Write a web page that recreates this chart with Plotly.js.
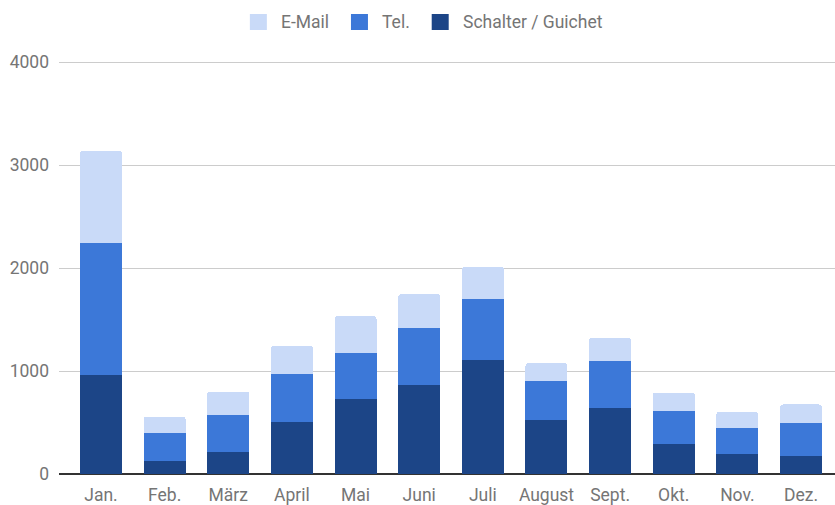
<!DOCTYPE html>
<html>
<head>
<meta charset="utf-8">
<script src="https://cdn.plot.ly/plotly-3.0.1.min.js"></script>
<style>html,body{margin:0;padding:0;background:#fff;}#chart{width:835px;height:505px;}</style>
</head>
<body>
<div id="chart"></div>
<script>
const months = ["Jan.","Feb.","März","April","Mai","Juni","Juli","August","Sept.","Okt.","Nov.","Dez."];
const schalter = [960,130,217,503,733,862,1110,520,636,290,191,174];
const tel = [1280,270,358,472,445,558,587,387,458,317,257,317];
const email = [900,158,225,271,355,326,316,170,229,184,155,184];
const yTicks = [0,1000,2000,3000,4000];
const seriesNames = ["Schalter / Guichet","Tel.","E-Mail"];
const seriesColors = ["#1c4587","#3c78d8","#c9daf8"];
const seriesValues = [schalter, tel, email];

const traces = seriesNames.map((n,i)=>({
  type:'bar', name:n, x:months, y:seriesValues[i], marker:{color:seriesColors[i]}, showlegend:false
}));

// plot area in pixels
const W=835, H=505, L=59, R=0, T=60, B=31;
const pw=W-L-R, ph=H-T-B;
const yTop = 4000*ph/412; // keeps 4000 at y=62 px
const px2x = p => (p-L)/pw;
const px2y = p => (H-B-p)/ph;

// custom legend (E-Mail, Tel., Schalter / Guichet)
const FONT = 'Roboto, Arial, sans-serif';
const LFS = 17.5, TFS = 17.5;
const ctx = document.createElement('canvas').getContext('2d');
ctx.font = LFS+'px Roboto';
const order = [2,1,0];
const sw=17, gapST=12, gapItems=24;
const widths = order.map(i=>ctx.measureText(seriesNames[i]).width);
const total = widths.reduce((a,w)=>a+sw+gapST+w,0)+gapItems*(order.length-1);
let cx = 425 - total/2;
const shapes=[], annotations=[];
const ly=22;
order.forEach((i,k)=>{
  shapes.push({type:'rect', xref:'paper', yref:'paper', x0:px2x(cx), x1:px2x(cx+sw), y0:px2y(ly+8), y1:px2y(ly-8),
    fillcolor:seriesColors[i], line:{width:0}, layer:'above'});
  annotations.push({xref:'paper', yref:'paper', x:px2x(cx+sw+gapST), y:px2y(ly), xanchor:'left', yanchor:'middle',
    text:seriesNames[i], showarrow:false, font:{family:FONT, size:LFS, color:'#757575'}});
  cx += sw+gapST+widths[k]+gapItems;
});

const layout = {
  width:W, height:H,
  margin:{l:L, r:R, t:T, b:B, pad:0},
  paper_bgcolor:'#fff', plot_bgcolor:'#fff',
  font:{family:FONT, size:TFS, color:'#757575'},
  barmode:'stack',
  bargap:0.34,
  barcornerradius:3,
  showlegend:false,
  shapes:shapes, annotations:annotations,
  xaxis:{type:'category', range:[-0.66, 11.534], showgrid:false, showline:false, zeroline:false,
         ticks:'', ticklabelstandoff:8, tickfont:{size:TFS, color:'#757575'}, fixedrange:true},
  yaxis:{range:[0,yTop], tickvals:yTicks, ticktext:yTicks.map(String), showgrid:true, gridcolor:'#cccccc', gridwidth:1,
         zeroline:true, zerolinecolor:'#333', zerolinewidth:1.6, showline:false, ticks:'', ticklabelstandoff:9,
         tickfont:{size:TFS, color:'#757575'}, fixedrange:true}
};

Plotly.newPlot('chart', traces, layout, {displayModeBar:false, staticPlot:true});
</script>
</body>
</html>
